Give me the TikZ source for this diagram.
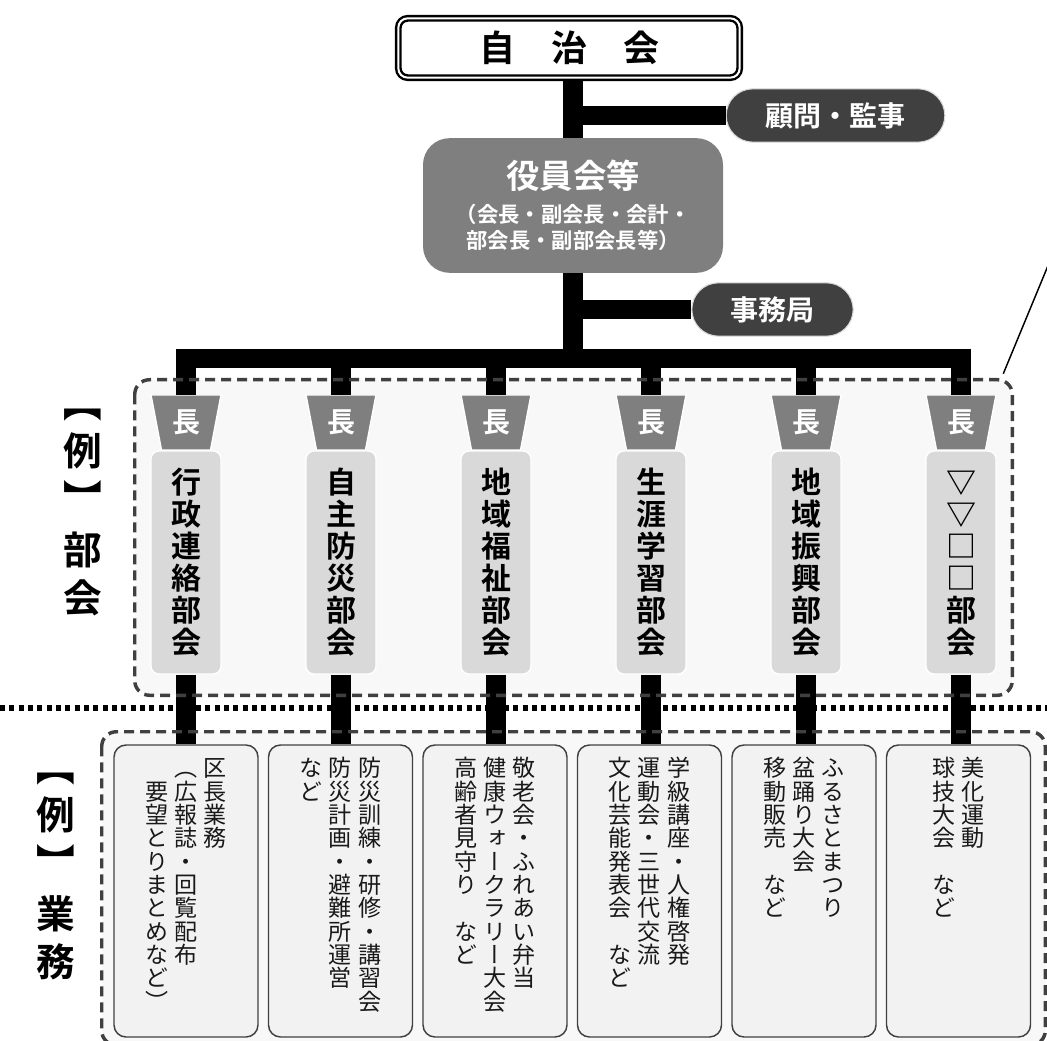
\documentclass[tikz,border=0pt]{standalone}
\usepackage{fontspec}
\setmainfont{Noto Sans CJK JP}[BoldFont={Noto Sans CJK JP Bold}]
\newfontfamily\tatefont{Noto Sans CJK JP}[RawFeature=+vert, BoldFont={Noto Sans CJK JP Bold}]
\usetikzlibrary{shapes.geometric}
\definecolor{sumi}{HTML}{404040}
\definecolor{nezumi}{HTML}{7F7F7F}
\definecolor{usuzumi}{HTML}{D9D9D9}
\definecolor{shiro}{HTML}{F8F8F8}
\definecolor{kinu}{HTML}{F2F2F2}
\newcommand\tate[2][17.5pt]{\vtop{\baselineskip=#1\lineskiplimit=-100pt\lineskip=0pt\expandafter\tateaux#2\relax}}
\def\tateaux#1{\ifx\relax#1\else\hbox to 1em{\vrule height .88em depth .12em width 0pt\hss#1\hss}\expandafter\tateaux\fi}
\begin{document}
\begin{tikzpicture}[x=0.75pt,y=-0.75pt,
        bar/.style={line width=14.5pt},
        jichibox/.style={draw=black, double=white, double distance=1.5pt, line width=1.8pt, rounded corners=7pt,
          minimum width=256pt, minimum height=44.5pt, font=\bfseries\fontsize{27}{30}\selectfont},
        yakuinbox/.style={fill=nezumi, rounded corners=20pt, minimum width=225pt, minimum height=101pt,
          text=white, align=center, font=\bfseries\fontsize{16}{17}\selectfont},
        pill/.style={fill=sumi, draw=white!85!black, line width=0.8pt, rounded corners=20pt, minimum height=40pt,
          text=white, font=\bfseries\fontsize{21}{24}\selectfont},
        chobox/.style={trapezium, shape border rotate=180, trapezium angle=76.7, trapezium stretches=true,
          minimum width=52.5pt, minimum height=41.25pt, inner sep=0pt, fill=nezumi, draw=white, line width=1pt,
          text=white, font=\bfseries\fontsize{21}{21}\selectfont},
        bukaibox/.style={fill=usuzumi, draw=white, line width=1pt, rounded corners=6pt, minimum width=52.5pt,
          minimum height=167.25pt, inner sep=0pt, font=\tatefont\bfseries\fontsize{22.5}{24}\selectfont},
        grpfill/.style={fill=shiro, rounded corners=11pt, inner sep=0pt},
        grpline/.style={draw=sumi, line width=2.6pt, dash pattern=on 7.5pt off 4.5pt, rounded corners=11pt},
        gbox/.style={fill=kinu, draw=sumi, line width=1.1pt, rounded corners=9pt, minimum width=108pt, minimum height=219pt},
        gtext/.style={anchor=north, inner sep=0pt, text=black!90, font=\tatefont\fontsize{17.3}{17.5}\selectfont},
        rei/.style={inner sep=0pt, font=\tatefont\bfseries\fontsize{29}{30}\selectfont},
        dotline/.style={line width=3.8pt, dash pattern=on 3.8pt off 3.2pt}]
        \useasboundingbox (0,0) rectangle (1047,1041);
        \node[jichibox] (jichi) at (569,48) {自　治　会};
        \node[yakuinbox] (yakuin) at (573,205.5) {{\fontsize{25}{27}\selectfont 役員会等}\\[8pt]（会長・副会長・会計・\\[3pt]部会長・副部会長等）};
        \node[pill, minimum width=164pt] (komon) at (835.5,115.5) {顧問・監事};
        \node[pill, minimum width=121pt] (jimu) at (772.5,309.5) {事務局};
        \coordinate (bus) at (573,358.5);
        \node[grpfill, minimum width=657.75pt, minimum height=236.25pt] (bukaiG) at (573.5,537.5) {};
        \node[grpfill, minimum width=707.25pt, minimum height=234.75pt] (gyomuG) at (573.5,888.5) {};
        \foreach \i/\bu in {1/行政連絡部会,2/自主防災部会,3/地域福祉部会,4/生涯学習部会,5/地域振興部会,6/▽▽□□部会}{
          \pgfmathsetmacro\bx{186+155*(\i-1)}
          \node[chobox] (cho\i) at (\bx,422.5) {長};
          \node[bukaibox] (bukai\i) at (\bx,562.5) {\tate[24pt]{\bu}};
        }
        \foreach \i in {1,...,6}{
          \pgfmathsetmacro\gx{186+154.5*(\i-1)}
          \node[gbox] (gyomu\i) at (\gx,891) {};
        }
        \node[gtext] (gt1) at ([yshift=-9pt]gyomu1.north) {\tate{　要望とりまとめなど）}\hspace{4.5pt}\tate{（広報誌・回覧配布}\hspace{4.5pt}\tate{区長業務}};
        \node[gtext] (gt2) at ([yshift=-9pt]gyomu2.north) {\tate{など}\hspace{4.5pt}\tate{防災計画・避難所運営}\hspace{4.5pt}\tate{防災訓練・研修・講習会}};
        \node[gtext] (gt3) at ([yshift=-9pt]gyomu3.north) {\tate{高齢者見守り　など}\hspace{4.5pt}\tate{健康ウォークラリー大会}\hspace{4.5pt}\tate{敬老会・ふれあい弁当}};
        \node[gtext] (gt4) at ([yshift=-9pt]gyomu4.north) {\tate{文化芸能発表会　など}\hspace{4.5pt}\tate{運動会・三世代交流}\hspace{4.5pt}\tate{学級講座・人権啓発}};
        \node[gtext] (gt5) at ([yshift=-9pt]gyomu5.north) {\tate{移動販売　など}\hspace{4.5pt}\tate{盆踊り大会}\hspace{4.5pt}\tate{ふるさとまつり}};
        \node[gtext] (gt6) at ([yshift=-9pt]gyomu6.north) {\tate{球技大会　など}\hspace{4.5pt}\tate{美化運動}};
        \draw[bar] (yakuin.north |- jichi.south) -- (yakuin.north);
        \draw[bar] (komon.west) -- (komon.west -| yakuin.north);
        \draw[bar] (yakuin.south) -- (yakuin.south |- bus);
        \draw[bar] (jimu.west) -- (jimu.west -| yakuin.south);
        \draw[bar] ([yshift=20.6pt]cho1.center) |- (bus) -| ([yshift=20.6pt]cho6.center);
        \foreach \i in {2,...,5}
          \draw[bar] ([yshift=20.6pt]cho\i.center) -- (cho\i.center |- bus);
        \foreach \i in {1,...,6}
          \draw[bar] (bukai\i.south) -- (bukai\i.south |- gyomu\i.north);
        \draw[grpline] (bukaiG.north west) rectangle (bukaiG.south east);
        \draw[grpline] (gyomuG.north west) rectangle (gyomuG.south east);
        \draw[dotline] (0,708) -- (1047,708);
        \node[rei] (rei1) at (83,451) {\tate[36pt]{【例】}};
        \node[rei] (bukaiL) at (83,574) {\tate[36pt]{部会}};
        \node[rei] (rei2) at (56,815) {\tate[36pt]{【例】}};
        \node[rei] (gyomuL) at (56,938) {\tate[36pt]{業務}};
        \coordinate (fukidashi) at (1052,256);
        \draw[line width=1.1pt] ([shift={(-9,-6)}]bukaiG.north east) -- (fukidashi);
\end{tikzpicture}
\end{document}
